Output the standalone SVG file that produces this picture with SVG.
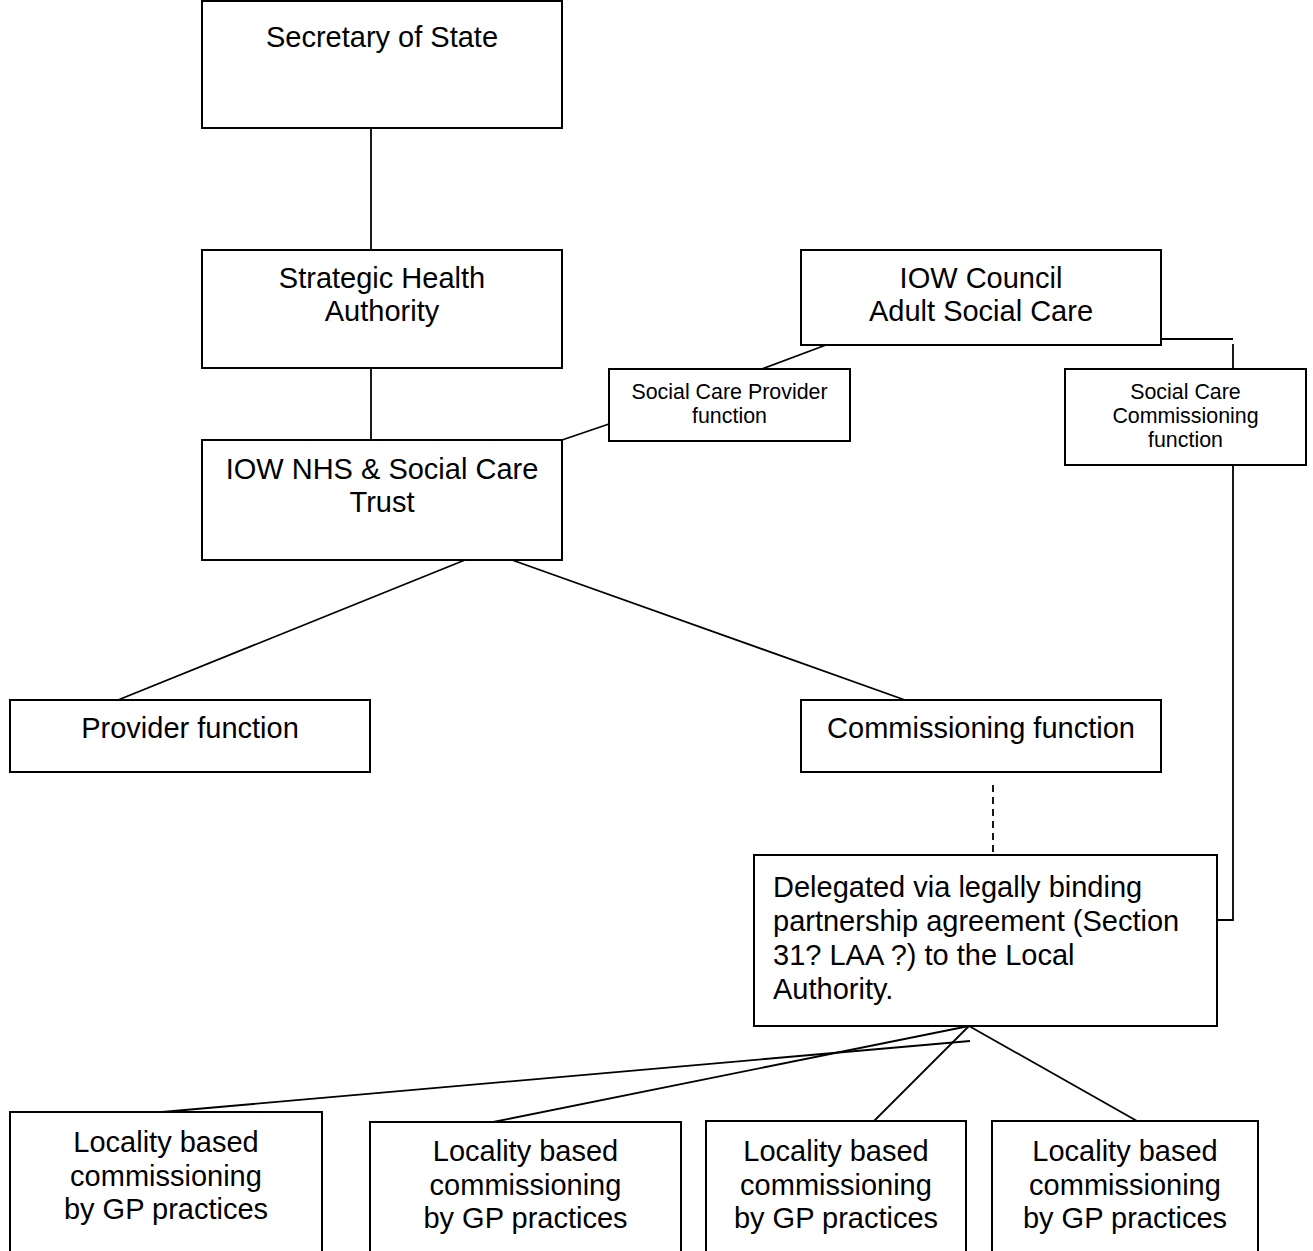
<svg xmlns="http://www.w3.org/2000/svg" width="1313" height="1251" viewBox="0 0 1313 1251">
<style>
.box{fill:#fff;stroke:#000;stroke-width:2}
.ln{stroke:#000;stroke-width:1.8;fill:none}
.dash{stroke:#000;stroke-width:1.8;fill:none;stroke-dasharray:7,5}
.t{font-family:"Liberation Sans",Arial,sans-serif;font-size:29px;fill:#000;text-anchor:middle}
.tl{font-family:"Liberation Sans",Arial,sans-serif;font-size:29px;fill:#000}
.s{font-family:"Liberation Sans",Arial,sans-serif;font-size:21.4px;fill:#000;text-anchor:middle}
</style>
<rect width="1313" height="1251" fill="#fff"/>
<g id="connectors">
<line class="ln" x1="371" y1="128" x2="371" y2="250"/>
<line class="ln" x1="371" y1="368" x2="371" y2="440"/>
<line class="ln" x1="826" y1="345" x2="762" y2="369"/>
<line class="ln" x1="609" y1="424" x2="562" y2="440"/>
<line class="ln" x1="1161" y1="339" x2="1233" y2="339"/>
<line class="ln" x1="1233" y1="344" x2="1233" y2="369"/>
<polyline class="ln" points="1233,465 1233,920 1217,920"/>
<line class="ln" x1="465" y1="560" x2="118" y2="700"/>
<line class="ln" x1="512" y1="560" x2="905" y2="700"/>
<line class="dash" x1="993" y1="785" x2="993" y2="855"/>
<line class="ln" x1="969" y1="1026" x2="493" y2="1122"/>
<line class="ln" x1="970" y1="1041" x2="162" y2="1112"/>
<line class="ln" x1="969" y1="1026" x2="874" y2="1121"/>
<line class="ln" x1="969" y1="1026" x2="1137" y2="1121"/>
</g>
<g id="secretary">
<rect class="box" x="202" y="1" width="360" height="127"/>
<text class="t" x="382" y="47">Secretary of State</text>
</g>
<g id="sha">
<rect class="box" x="202" y="250" width="360" height="118"/>
<text class="t" x="382" y="288">Strategic Health</text>
<text class="t" x="382" y="321">Authority</text>
</g>
<g id="council">
<rect class="box" x="801" y="250" width="360" height="95"/>
<text class="t" x="981" y="288">IOW Council</text>
<text class="t" x="981" y="321">Adult Social Care</text>
</g>
<g id="scprovider">
<rect class="box" x="609" y="369" width="241" height="72"/>
<text class="s" x="729.5" y="399">Social Care Provider</text>
<text class="s" x="729.5" y="423">function</text>
</g>
<g id="sccommissioning">
<rect class="box" x="1065" y="369" width="241" height="96"/>
<text class="s" x="1185.5" y="399">Social Care</text>
<text class="s" x="1185.5" y="423">Commissioning</text>
<text class="s" x="1185.5" y="447">function</text>
</g>
<g id="trust">
<rect class="box" x="202" y="440" width="360" height="120"/>
<text class="t" x="382" y="479">IOW NHS &amp; Social Care</text>
<text class="t" x="382" y="512">Trust</text>
</g>
<g id="provider">
<rect class="box" x="10" y="700" width="360" height="72"/>
<text class="t" x="190" y="738">Provider function</text>
</g>
<g id="commissioning">
<rect class="box" x="801" y="700" width="360" height="72"/>
<text class="t" x="981" y="738">Commissioning function</text>
</g>
<g id="delegated">
<rect class="box" x="754" y="855" width="463" height="171"/>
<text class="tl" x="773" y="897">Delegated via legally binding</text>
<text class="tl" x="773" y="931">partnership agreement (Section</text>
<text class="tl" x="773" y="965">31? LAA ?) to the Local</text>
<text class="tl" x="773" y="999">Authority.</text>
</g>
<g id="locality1">
<rect class="box" x="10" y="1112" width="312" height="150"/>
<text class="t" x="166" y="1152">Locality based</text>
<text class="t" x="166" y="1186">commissioning</text>
<text class="t" x="166" y="1219">by GP practices</text>
</g>
<g id="locality2">
<rect class="box" x="370" y="1122" width="311" height="150"/>
<text class="t" x="525.5" y="1161">Locality based</text>
<text class="t" x="525.5" y="1195">commissioning</text>
<text class="t" x="525.5" y="1228">by GP practices</text>
</g>
<g id="locality3">
<rect class="box" x="706" y="1121" width="260" height="150"/>
<text class="t" x="836" y="1161">Locality based</text>
<text class="t" x="836" y="1195">commissioning</text>
<text class="t" x="836" y="1228">by GP practices</text>
</g>
<g id="locality4">
<rect class="box" x="992" y="1121" width="266" height="150"/>
<text class="t" x="1125" y="1161">Locality based</text>
<text class="t" x="1125" y="1195">commissioning</text>
<text class="t" x="1125" y="1228">by GP practices</text>
</g>
</svg>
